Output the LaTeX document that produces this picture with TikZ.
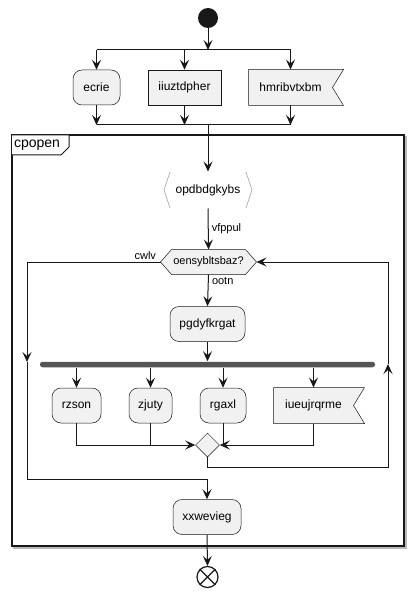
\documentclass[tikz,border=0pt]{standalone}
\usepackage{fontspec}
\setmainfont{Liberation Sans}
\usetikzlibrary{arrows.meta,shapes.geometric,calc}
\definecolor{bd}{HTML}{181818}
\definecolor{fl}{HTML}{F1F1F1}
\definecolor{barc}{HTML}{555555}
\begin{document}
\begin{tikzpicture}[x=1pt,y=-1pt,
  line width=1pt,
  arr/.style={draw=bd,-{Stealth[length=10pt,width=9pt,inset=4pt]}},
  ln/.style={draw=bd},
  txt/.style={font=\fontsize{12}{14}\selectfont,text=black},
  small/.style={font=\fontsize{11}{13}\selectfont,text=black,inner sep=1pt},
  act/.style={txt,draw=bd,fill=fl,rounded corners=9pt,line width=0.5pt,minimum height=35pt,inner sep=0pt},
  plain/.style={txt,draw=bd,fill=fl,line width=0.5pt,minimum height=35pt,inner sep=0pt},
  bare/.style={txt,minimum height=35pt,inner sep=0pt},
  shp/.style={draw=bd,fill=fl,line width=0.5pt},
]
\useasboundingbox (0,0) rectangle (414,596);
\fill[white] (0,0) rectangle (414,596);

% start
\node[circle,fill=bd,minimum size=20pt,inner sep=0pt] (start) at (208,18) {};

% top fork
\coordinate (f1) at (208,50);
\coordinate (j1) at (208,125);

\node[act,minimum width=47pt] (ecrie) at (96.5,87.5) {ecrie};
\node[plain,minimum width=73pt] (iiu) at (184.5,87.5) {iiuztdpher};
\node[bare,minimum width=83pt] (hmr) at (290.5,87.5) {};
\draw[shp] (hmr.north west) -- ($(hmr.north east)+(11,0)$) -- (hmr.east) -- ($(hmr.south east)+(11,0)$) -- (hmr.south west) -- cycle;
\node[txt] at (hmr) {hmribvtxbm};

\draw[arr] (start) -- (f1);
\draw[ln] (ecrie.north |- f1) -- (hmr.north |- f1);
\draw[arr] (ecrie.north |- f1) -- (ecrie.north);
\draw[arr] (iiu.north |- f1) -- (iiu.north);
\draw[arr] (hmr.north |- f1) -- (hmr.north);

\draw[ln] (ecrie.south |- j1) -- (hmr.south |- j1);
\draw[arr] (ecrie.south) -- (ecrie.south |- j1);
\draw[arr] (iiu.south) -- (iiu.south |- j1);
\draw[arr] (hmr.south) -- (hmr.south |- j1);

% frame
\draw[gray!55,line width=1.5pt] (14,137) rectangle (406,548);
\draw[bd,fill=white,line width=1.5pt] (12,135) rectangle (404,546);
\draw[bd,fill=white,line width=1pt] (12,135) -- (69,135) -- (69,147) -- (61,155) -- (12,155);
\node[font=\fontsize{14}{16}\selectfont,anchor=west,inner sep=0pt] (cpopen) at (13.5,145) {cpopen};

% opdbdgkybs
\node[bare,minimum width=88pt,minimum height=36pt] (opd) at (208,190) {opdbdgkybs};
\draw[gray!75,line width=0.6pt] (170,172) -- (164,190) -- (170,208);
\draw[gray!75,line width=0.6pt] (246,172) -- (252,190) -- (246,208);
\draw[arr] (j1) -- (opd.north);

% decision
\node[font=\fontsize{11}{13}\selectfont,minimum width=73pt,minimum height=24pt,inner sep=0pt] (dec) at (208.5,262) {};
\coordinate (decL) at ($(dec.west)+(-11,0)$);
\coordinate (decR) at ($(dec.east)+(11,0)$);
\draw[shp] (dec.north west) -- (dec.north east) -- (decR) -- (dec.south east) -- (dec.south west) -- (decL) -- cycle;
\node[font=\fontsize{11}{13}\selectfont] at (dec) {oensybltsbaz?};
\draw[arr] (opd.south) -- node[small,anchor=west,xshift=2pt] (vf) {vfppul} (dec.north);
\node[small,anchor=south east] (cw) at ($(decL)+(-3,-1)$) {cwlv};

% pgdyfkrgat
\node[act,minimum width=75pt] (pg) at (207.5,324) {pgdyfkrgat};
\draw[arr] (dec.south) -- (pg.north);
\node[small,anchor=north west] (oo) at ($(dec.south)+(2,1)$) {ootn};

% fork bar
\node[fill=barc,rounded corners=2.5pt,minimum width=335pt,minimum height=5.5pt,inner sep=0pt] (bar) at (207.5,364.5) {};
\draw[arr] (pg.south) -- (bar.north);

\node[act,minimum width=49pt] (rz) at (76.5,405.5) {rzson};
\node[act,minimum width=43pt] (zj) at (150.5,405.5) {zjuty};
\node[act,minimum width=46pt] (rg) at (223,405.5) {rgaxl};
\node[bare,minimum width=79pt] (iu) at (313.5,405.5) {};
\draw[shp] (iu.north west) -- ($(iu.north east)+(11,0)$) -- (iu.east) -- ($(iu.south east)+(11,0)$) -- (iu.south west) -- cycle;
\node[txt] at (iu) {iueujrqrme};

\draw[arr] (rz.north |- bar.south) -- (rz.north);
\draw[arr] (zj.north |- bar.south) -- (zj.north);
\draw[arr] (rg.north |- bar.south) -- (rg.north);
\draw[arr] (iu.north |- bar.south) -- (iu.north);

% merge
\node[diamond,draw=bd,fill=fl,line width=0.5pt,minimum width=24pt,minimum height=24pt,inner sep=0pt] (mg) at (207.5,445) {};
\draw[ln] (zj.south) -- (zj.south |- mg.west);
\draw[arr] (rz.south) |- (mg.west);
\draw[ln] (iu.south) |- (rg.south |- mg.east);
\draw[arr] (rg.south) |- (mg.east);

% loop back (right)
\coordinate (R1) at (207.5,467);
\coordinate (R2) at (388,467);
\coordinate (R3) at (388,364);
\coordinate (R4) at (388,262);
\draw[arr] (mg.south) -- (R1) -- (R2) -- (R3);
\draw[arr] (R3) -- (R4) -- (decR);

% exit (left)
\coordinate (L1) at (27,262);
\coordinate (L2) at (27,362);
\coordinate (L3) at (27,479);
\node[act,minimum width=68pt] (xxw) at (207,517) {xxwevieg};
\draw[arr] (decL) -- (L1) -- (L2);
\draw[arr] (L2) -- (L3) -| (xxw.north);

% end
\node[circle,draw=bd,fill=white,line width=1.2pt,minimum size=21pt,inner sep=0pt] (end) at (207.5,577) {};
\draw[bd,line width=1.2pt] (end.north west) -- (end.south east) (end.north east) -- (end.south west);
\draw[arr] (xxw.south) -- (end.north);
\end{tikzpicture}
\end{document}
